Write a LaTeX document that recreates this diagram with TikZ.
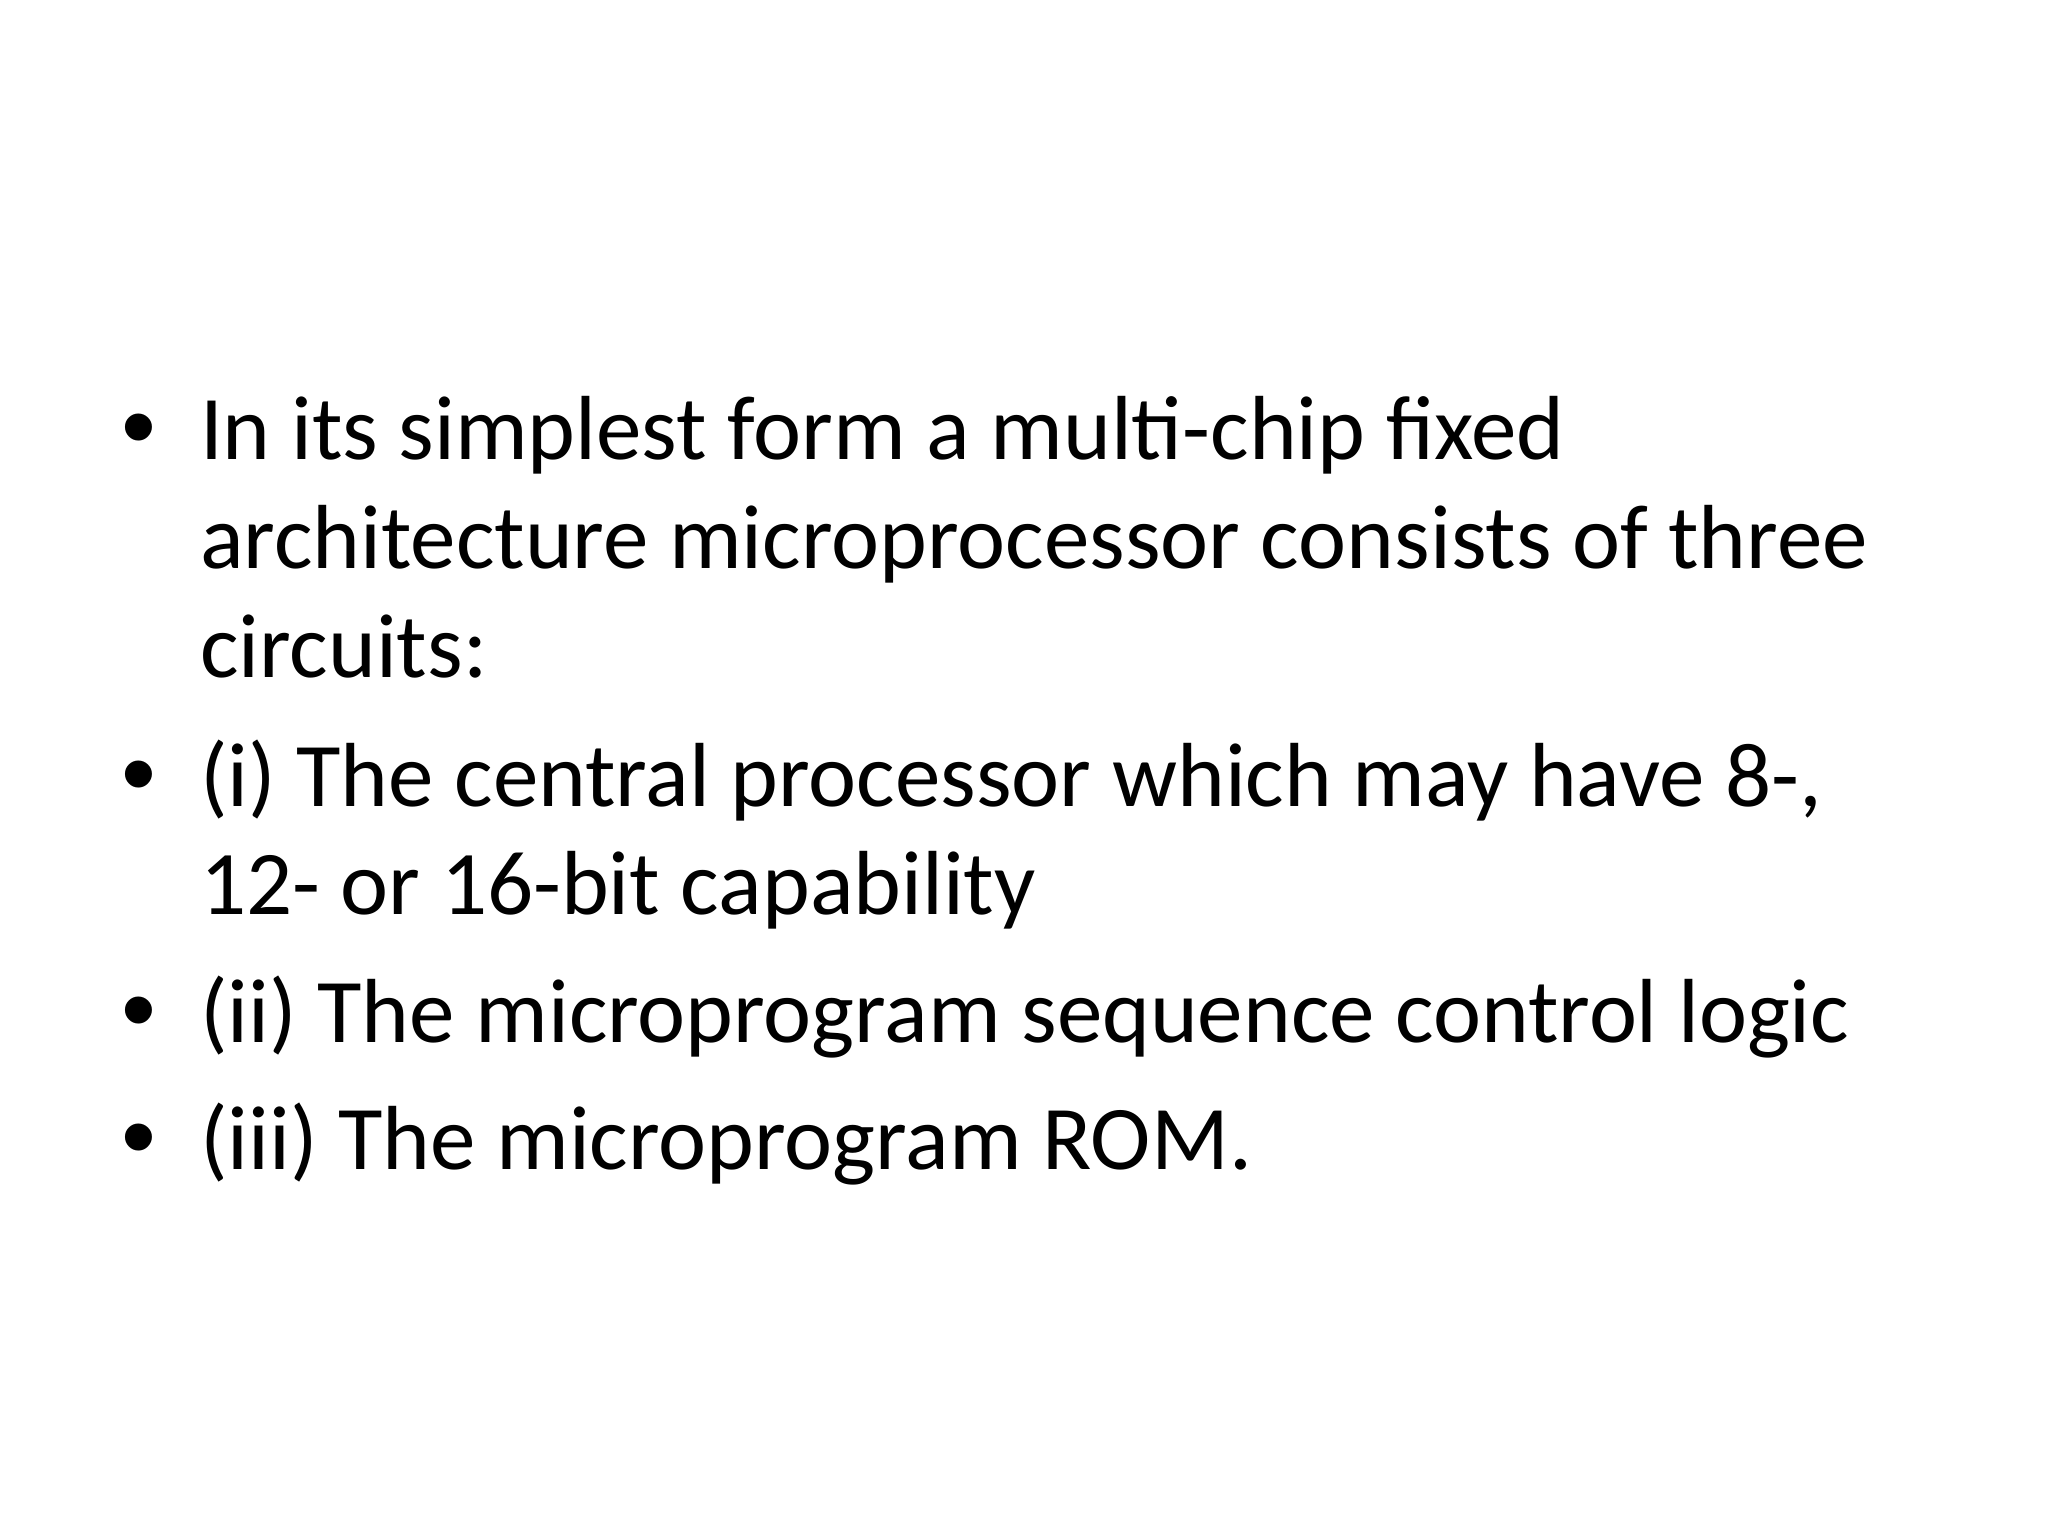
\documentclass[tikz,border=0pt]{standalone}
\usepackage{fontspec}
\setmainfont{Carlito}
\newfontfamily\bulletfont{Liberation Sans}
\begin{document}
\begin{tikzpicture}[x=0.3515625pt,y=-0.3515625pt,
  linetext/.style={anchor=base west,inner sep=0pt,outer sep=0pt,font=\fontsize{32pt}{38.6pt}\selectfont,text=black},
  bulletmark/.style={anchor=base west,inner sep=0pt,outer sep=0pt,font=\bulletfont\fontsize{35pt}{42pt}\selectfont,text=black}]
\useasboundingbox[fill=white] (0,0) rectangle (2048,1536);
% bullets
\node[bulletmark] (b1) at (121.5,461) {•};
\node[bulletmark] (b2) at (121.5,807) {•};
\node[bulletmark] (b3) at (121.5,1043) {•};
\node[bulletmark] (b4) at (121.5,1170) {•};
% text lines
\node[linetext] (l1a) at (200,460) {In its simplest form a multi-chip fixed};
\node[linetext] (l1b) at (200,568.5) {architecture microprocessor consists of three};
\node[linetext] (l1c) at (200,677) {circuits:};
\node[linetext] (l2a) at (200,806) {(i) The central processor which may have 8-,};
\node[linetext] (l2b) at (200,914) {12- or 16-bit capability};
\node[linetext] (l3) at (200,1042) {(ii) The microprogram sequence control logic};
\node[linetext] (l4) at (200,1169) {(iii) The microprogram ROM.};
\end{tikzpicture}
\end{document}
